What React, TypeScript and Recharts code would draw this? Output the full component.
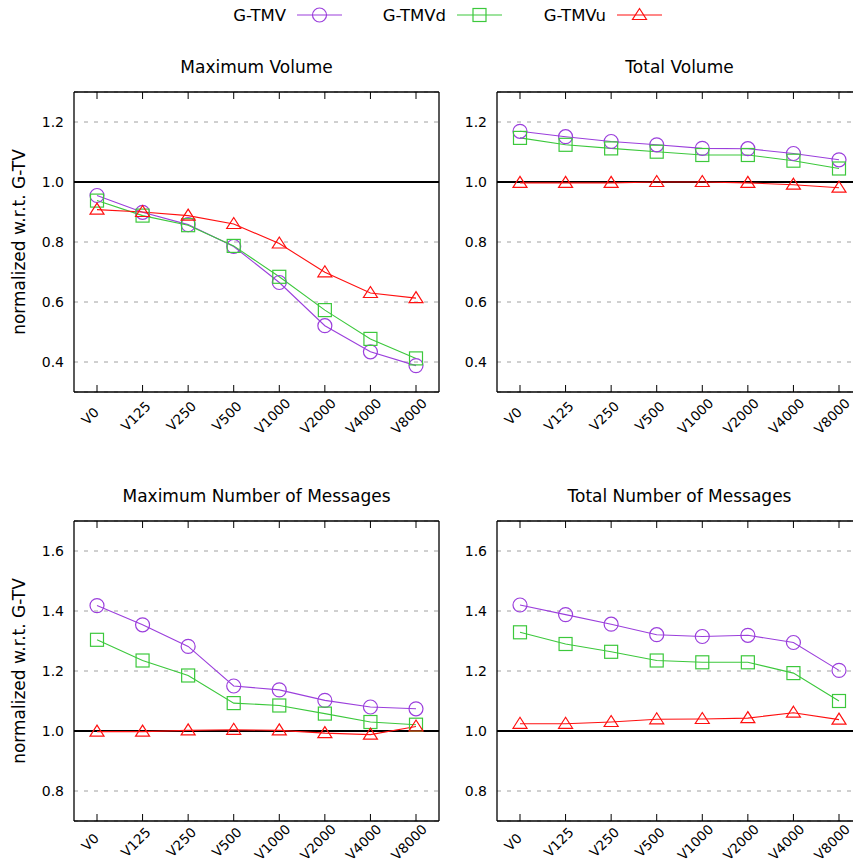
import React from 'react';
import { LineChart, Line, XAxis, YAxis, CartesianGrid, ReferenceLine } from 'recharts';

const categories = ['V0', 'V125', 'V250', 'V500', 'V1000', 'V2000', 'V4000', 'V8000'];

// Maximum Volume
const maxVolTMV = [0.955, 0.899, 0.858, 0.785, 0.665, 0.521, 0.434, 0.388];
const maxVolTMVd = [0.938, 0.888, 0.856, 0.787, 0.684, 0.573, 0.477, 0.412];
const maxVolTMVu = [0.908, 0.9, 0.888, 0.86, 0.795, 0.699, 0.63, 0.613];

// Total Volume
const totVolTMV = [1.169, 1.151, 1.135, 1.124, 1.112, 1.111, 1.095, 1.074];
const totVolTMVd = [1.147, 1.124, 1.112, 1.101, 1.09, 1.09, 1.071, 1.045];
const totVolTMVu = [0.997, 0.997, 0.997, 1.0, 1.0, 0.997, 0.991, 0.981];

// Maximum Number of Messages
const maxMsgTMV = [1.418, 1.354, 1.282, 1.15, 1.137, 1.102, 1.08, 1.074];
const maxMsgTMVd = [1.304, 1.235, 1.185, 1.093, 1.085, 1.058, 1.03, 1.021];
const maxMsgTMVu = [0.998, 0.998, 1.002, 1.004, 1.002, 0.993, 0.988, 1.015];

// Total Number of Messages
const totMsgTMV = [1.42, 1.388, 1.356, 1.321, 1.315, 1.319, 1.295, 1.202];
const totMsgTMVd = [1.329, 1.29, 1.264, 1.235, 1.229, 1.229, 1.193, 1.1];
const totMsgTMVu = [1.024, 1.024, 1.03, 1.039, 1.04, 1.043, 1.061, 1.038];

const volumeTicks = [0.4, 0.6, 0.8, 1.0, 1.2];
const messageTicks = [0.8, 1.0, 1.2, 1.4, 1.6];

const series = [
  { key: 'tmv', name: 'G-TMV', color: '#9b3fdc', shape: 'circle' },
  { key: 'tmvd', name: 'G-TMVd', color: '#3cc83c', shape: 'square' },
  { key: 'tmvu', name: 'G-TMVu', color: '#ff1010', shape: 'triangle' },
];

const FONT = '"DejaVu Sans", sans-serif';

const toRows = (a: number[], b: number[], c: number[]) =>
  categories.map((name, i) => ({ name, tmv: a[i], tmvd: b[i], tmvu: c[i] }));

const Marker = ({ shape, cx, cy, color }: any) => {
  if (shape === 'circle') {
    return <circle cx={cx} cy={cy} r={7} fill="none" stroke={color} strokeWidth={1.2} />;
  }
  if (shape === 'square') {
    return <rect x={cx - 6.5} y={cy - 6.5} width={13} height={13} fill="none" stroke={color} strokeWidth={1.2} />;
  }
  const pts = `${cx},${cy - 6.5} ${cx + 7},${cy + 4.5} ${cx - 7},${cy + 4.5}`;
  return <polygon points={pts} fill="none" stroke={color} strokeWidth={1.2} />;
};

const renderDot = (shape: string, color: string) => (props: any) => {
  const { cx, cy, index } = props;
  if (cx == null || cy == null) return <g key={`d-${index}`} />;
  return <Marker key={`d-${index}`} shape={shape} cx={cx} cy={cy} color={color} />;
};

const XTick = (props: any) => {
  const { x, y, payload, drop } = props;
  const tx = x - 7;
  const ty = y + drop;
  return (
    <text
      x={tx}
      y={ty}
      textAnchor="middle"
      dominantBaseline="central"
      transform={`rotate(-45, ${tx}, ${ty})`}
      fontFamily={FONT}
      fontSize={13.5}
      fill="#000"
    >
      {payload.value}
    </text>
  );
};

const EmptyTick = () => <g />;

interface PanelProps {
  title: string;
  rows: any[];
  domain: [number, number];
  ticks: number[];
  left: number;
  top: number;
  axisWidth: number;
  bottomSpace: number;
  labelDrop: number;
  yLabel?: boolean;
}

const Panel: React.FC<PanelProps> = ({ title, rows, domain, ticks, left, top, axisWidth, bottomSpace, labelDrop, yLabel }) => {
  const plotW = 365;
  const plotH = 300;
  const marginTop = 39; // + 1px for the mirrored top axis
  const width = axisWidth + plotW + 1 + 6;
  const height = marginTop + 1 + plotH + bottomSpace;
  const plotCenterY = marginTop + 1 + plotH / 2;
  return (
    <div style={{ position: 'absolute', left, top, width, height }}>
      <div
        style={{
          position: 'absolute',
          left: axisWidth,
          width: plotW,
          top: 3,
          textAlign: 'center',
          fontFamily: FONT,
          fontSize: 17,
          lineHeight: '24px',
          color: '#000',
        }}
      >
        {title}
      </div>
      <LineChart width={width} height={height} data={rows} margin={{ top: marginTop, right: 6, bottom: 0, left: 0 }}>
        <CartesianGrid vertical={false} stroke="#a0a0a0" strokeDasharray="4 6" />
        <XAxis
          dataKey="name"
          height={bottomSpace}
          padding={{ left: 23, right: 23 }}
          axisLine={{ stroke: '#000', strokeWidth: 1.3 }}
          tickLine={{ stroke: '#000' }}
          tickSize={-7}
          tickMargin={7}
          interval={0}
          tick={<XTick drop={labelDrop} />}
        />
        <XAxis
          xAxisId="top"
          orientation="top"
          dataKey="name"
          height={1}
          padding={{ left: 23, right: 23 }}
          axisLine={{ stroke: '#000', strokeWidth: 1.3 }}
          tickLine={{ stroke: '#000' }}
          tickSize={-7}
          interval={0}
          tick={<EmptyTick />}
        />
        <YAxis
          width={axisWidth}
          domain={domain}
          ticks={ticks}
          allowDataOverflow
          axisLine={{ stroke: '#000', strokeWidth: 1.3 }}
          tickLine={false}
          tickMargin={4}
          tickFormatter={(v: number) => v.toFixed(1)}
          tick={{ fontFamily: FONT, fontSize: 14, fill: '#000' }}
          label={
            yLabel
              ? {
                  content: () => (
                    <text
                      x={19}
                      y={plotCenterY}
                      textAnchor="middle"
                      dominantBaseline="central"
                      transform={`rotate(-90, 19, ${plotCenterY})`}
                      fontFamily={FONT}
                      fontSize={17}
                      fill="#000"
                    >
                      normalized w.r.t. G-TV
                    </text>
                  ),
                }
              : undefined
          }
        />
        <YAxis
          yAxisId="r"
          orientation="right"
          width={1}
          domain={domain}
          ticks={ticks}
          allowDataOverflow
          axisLine={{ stroke: '#000', strokeWidth: 1.3 }}
          tickLine={false}
          tick={<EmptyTick />}
        />
        <ReferenceLine y={1} stroke="#000" strokeWidth={2} />
        {/* invisible series so the mirrored frame axes get a scale */}
        <Line
          xAxisId="top"
          yAxisId="r"
          dataKey="tmv"
          stroke="none"
          dot={false}
          activeDot={false}
          legendType="none"
          isAnimationActive={false}
        />
        {series.map((s) => (
          <Line
            key={s.key}
            type="linear"
            dataKey={s.key}
            name={s.name}
            stroke={s.color}
            strokeWidth={1.1}
            dot={renderDot(s.shape, s.color)}
            activeDot={false}
            isAnimationActive={false}
          />
        ))}
      </LineChart>
    </div>
  );
};

const TopLegend = () => {
  const textEnds = [286, 446, 606];
  return (
    <svg width={853} height={32} style={{ position: 'absolute', left: 0, top: 0 }}>
      {series.map((s, i) => {
        const end = textEnds[i];
        const mid = end + 33.5;
        return (
          <g key={s.key}>
            <text x={end} y={15} textAnchor="end" dominantBaseline="central" fontFamily={FONT} fontSize={16.5} fill="#000">
              {s.name}
            </text>
            <line x1={end + 11} x2={end + 56} y1={15} y2={15} stroke={s.color} strokeWidth={1.1} />
            <Marker shape={s.shape} cx={mid} cy={15} color={s.color} />
          </g>
        );
      })}
    </svg>
  );
};

export default function App() {
  return (
    <div
      style={{
        position: 'absolute',
        left: 0,
        top: 0,
        width: 853,
        height: 864,
        overflow: 'hidden',
        background: '#fff',
      }}
    >
      <TopLegend />
      <Panel
        title="Maximum Volume"
        rows={toRows(maxVolTMV, maxVolTMVd, maxVolTMVu)}
        domain={[0.3, 1.3]}
        ticks={volumeTicks}
        left={0}
        top={52}
        axisWidth={74}
        bottomSpace={60}
        labelDrop={24}
        yLabel
      />
      <Panel
        title="Total Volume"
        rows={toRows(totVolTMV, totVolTMVd, totVolTMVu)}
        domain={[0.3, 1.3]}
        ticks={volumeTicks}
        left={430}
        top={52}
        axisWidth={67}
        bottomSpace={60}
        labelDrop={24}
      />
      <Panel
        title="Maximum Number of Messages"
        rows={toRows(maxMsgTMV, maxMsgTMVd, maxMsgTMVu)}
        domain={[0.7, 1.7]}
        ticks={messageTicks}
        left={0}
        top={481}
        axisWidth={74}
        bottomSpace={43}
        labelDrop={21}
        yLabel
      />
      <Panel
        title="Total Number of Messages"
        rows={toRows(totMsgTMV, totMsgTMVd, totMsgTMVu)}
        domain={[0.7, 1.7]}
        ticks={messageTicks}
        left={430}
        top={481}
        axisWidth={67}
        bottomSpace={43}
        labelDrop={21}
      />
    </div>
  );
}
